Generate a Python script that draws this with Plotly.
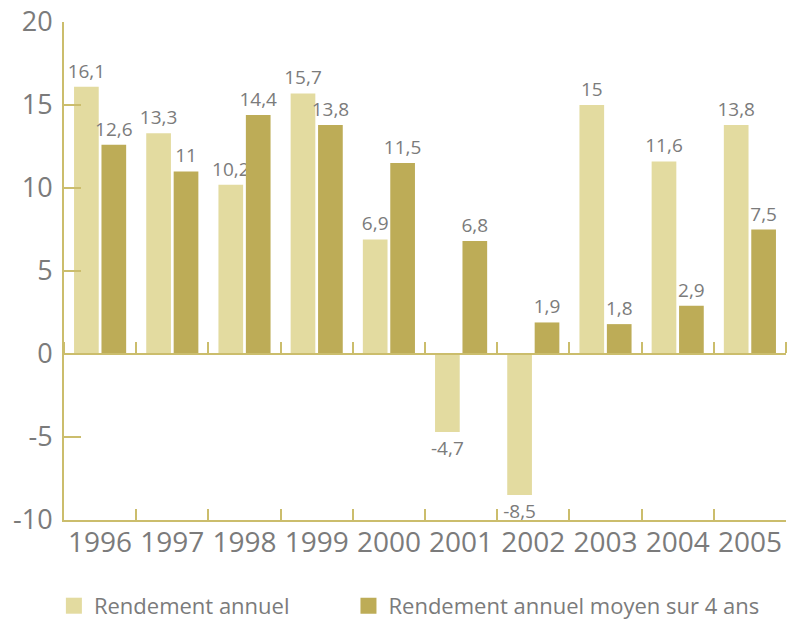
import plotly.graph_objects as go

# Annual returns and 4-year rolling average return, in %
years = ["1996", "1997", "1998", "1999", "2000", "2001", "2002", "2003", "2004", "2005"]
annual = [16.1, 13.3, 10.2, 15.7, 6.9, -4.7, -8.5, 15.0, 11.6, 13.8]
avg4 = [12.6, 11.0, 14.4, 13.8, 11.5, 6.8, 1.9, 1.8, 2.9, 7.5]
series_names = ["Rendement annuel", "Rendement annuel moyen sur 4 ans"]
y_ticks = [-10, -5, 0, 5, 10, 15, 20]

LIGHT = "#e3dba0"
DARK = "#bdac57"
GOLD = "#cbbd6c"
GREY = "#7b7b7b"
FONT = "Open Sans"


def fr(v):
    return f"{v:g}".replace(".", ",")


fig = go.Figure()
for vals, col, name, lg in [(annual, LIGHT, series_names[0], "legend"),
                            (avg4, DARK, series_names[1], "legend2")]:
    fig.add_bar(
        x=years, y=vals, marker=dict(color=col, line=dict(width=0)),
        text=[fr(v) for v in vals], textposition="outside", constraintext="none",
        textfont=dict(family=FONT, size=19, color=GREY),
        cliponaxis=False, showlegend=False, hoverinfo="skip",
    )
    # legend swatch
    fig.add_scatter(
        x=[None], y=[None], mode="markers", name=name, legend=lg,
        marker=dict(symbol="square", size=22, color=col),
        showlegend=True,
    )

# helper trace so the zero-line axis (with boundary ticks) is drawn
fig.add_scatter(
    x=years, y=[0] * len(years), xaxis="x2", mode="markers",
    marker=dict(opacity=0), showlegend=False, hoverinfo="skip",
)

legend_common = dict(
    orientation="h", yref="container", y=0.029, yanchor="middle", xanchor="left",
    font=dict(family=FONT, size=22, color=GREY), itemsizing="trace",
    bgcolor="rgba(0,0,0,0)",
)

fig.update_layout(
    width=789, height=624,
    margin=dict(l=64, r=3, t=22, b=104, autoexpand=False),
    paper_bgcolor="white", plot_bgcolor="white",
    font=dict(family=FONT, color=GREY),
    barmode="group", bargap=0.24, bargroupgap=0.1,
    xaxis=dict(
        type="category", categoryarray=years, range=[-0.5, 9.5],
        showline=True, linecolor=GOLD, linewidth=2,
        ticks="inside", tickson="boundaries", ticklen=11, tickcolor=GOLD, tickwidth=2,
        tickfont=dict(family=FONT, size=28, color=GREY), tickangle=0,
        ticklabelstandoff=-4,
        automargin=False, showgrid=False, zeroline=False,
    ),
    xaxis2=dict(
        type="category", categoryarray=years, range=[-0.5, 9.5],
        overlaying="x", anchor="free", position=1 / 3, side="top",
        showline=True, linecolor=GOLD, linewidth=2,
        ticks="outside", tickson="boundaries", ticklen=11, tickcolor=GOLD, tickwidth=2,
        showticklabels=False, showgrid=False, zeroline=False, automargin=False,
    ),
    yaxis=dict(
        range=[-10, 20], tickvals=y_ticks, ticktext=[str(t) for t in y_ticks],
        showline=True, linecolor=GOLD, linewidth=2,
        ticks="inside", ticklen=17, tickcolor=GOLD, tickwidth=2,
        tickfont=dict(family=FONT, size=27, color=GREY), ticklabelstandoff=4,
        automargin=False, showgrid=False, zeroline=False,
    ),
    legend=dict(legend_common, x=-0.014),
    legend2=dict(legend_common, x=0.394),
)

fig.write_html("out.html")
